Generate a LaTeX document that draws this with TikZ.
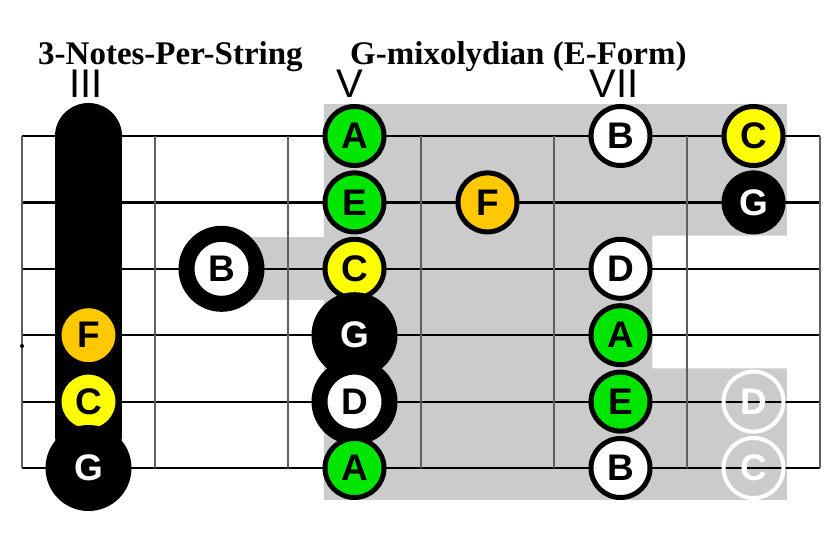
\documentclass[tikz,border=0pt]{standalone}
\usepackage{fontspec}
\setmainfont{Liberation Serif}
\setsansfont{Liberation Sans}

\definecolor{notegreen}{RGB}{0,230,0}
\definecolor{noteyellow}{RGB}{255,255,0}
\definecolor{noteorange}{RGB}{255,200,0}
\definecolor{boxgray}{RGB}{203,203,203}
\definecolor{fretgray}{RGB}{95,95,95}

\begin{document}
\begin{tikzpicture}[x=133pt,y=-66.4pt,
    note/.style={circle,draw=black,line width=5pt,minimum size=59pt,inner sep=0pt,
      font=\sffamily\bfseries\fontsize{37}{37}\selectfont},
    ringnote/.style={circle,draw=black,line width=16pt,minimum size=70pt,inner sep=0pt,fill=white,
      font=\sffamily\bfseries\fontsize{37}{37}\selectfont},
    rootnote/.style={circle,fill=black,text=white,minimum size=86pt,inner sep=0pt,
      font=\sffamily\bfseries\fontsize{37}{37}\selectfont},
    ghostnote/.style={circle,draw=white,line width=4pt,minimum size=60pt,inner sep=0pt,text=white,
      font=\sffamily\bfseries\fontsize{37}{37}\selectfont},
    fretnum/.style={anchor=base,inner sep=0pt,font=\sffamily\fontsize{40}{40}\selectfont},
    title/.style={anchor=base west,inner sep=0pt,font=\bfseries\fontsize{33}{33}\selectfont}]
    \useasboundingbox (-0.16541,-2.04819) rectangle (6.15038,6.02410);

    % shaded box
    \fill[boxgray] (2.27,-0.48) -- (5.75,-0.48) -- (5.75,1.5) -- (4.74,1.5) -- (4.74,3.5)
      -- (5.75,3.5) -- (5.75,5.48) -- (2.27,5.48) -- cycle;
    \fill[boxgray] (1.5,1.52) rectangle (2.27,2.47);

    % strings and frets
    \foreach \s in {0,...,5}
    \draw[line width=2.2pt] (0,\s) -- (6,\s);
    \foreach \f in {0,...,6}
    \draw[fretgray,line width=2pt] (\f,0) -- (\f,5);
    \fill (0,3.163) circle (2pt);

    % titles
    \node[title] (title1) at (0.1203,-1.084) {3-Notes-Per-String};
    \node[title] (title2) at (2.466,-1.084) {G-mixolydian (E-Form)};

    % fret numbers
    \node[fretnum] (fret3) at (0.481,-0.587) {III};
    \node[fretnum] (fret5) at (2.466,-0.587) {V};
    \node[fretnum] (fret7) at (4.451,-0.587) {VII};

    % barre
    \draw[line width=66pt,line cap=round] (0.5,0) -- (0.5,4.5);

    % fret III
    \node[note,fill=noteorange] (n43) at (0.5,3) {F};
    \node[note,fill=noteyellow] (n53) at (0.5,4) {C};
    \node[rootnote] (n63) at (0.5,5) {G};

    % fret IV
    \node[ringnote] (n34) at (1.5,2) {B};

    % fret V
    \node[note,fill=notegreen] (n15) at (2.5,0) {A};
    \node[note,fill=notegreen] (n25) at (2.5,1) {E};
    \node[note,fill=noteyellow] (n35) at (2.5,2) {C};
    \node[rootnote] (n45) at (2.5,3) {G};
    \node[ringnote] (n55) at (2.5,4) {D};
    \node[note,fill=notegreen] (n65) at (2.5,5) {A};

    % fret VI
    \node[note,fill=noteorange] (n26) at (3.5,1) {F};

    % fret VII
    \node[note,fill=white] (n17) at (4.5,0) {B};
    \node[note,fill=white] (n37) at (4.5,2) {D};
    \node[note,fill=notegreen] (n47) at (4.5,3) {A};
    \node[note,fill=notegreen] (n57) at (4.5,4) {E};
    \node[note,fill=white] (n67) at (4.5,5) {B};

    % fret VIII
    \node[note,fill=noteyellow] (n18) at (5.5,0) {C};
    \node[note,fill=black,text=white] (n28) at (5.5,1) {G};
    \node[ghostnote] (n58) at (5.5,4) {D};
    \node[ghostnote] (n68) at (5.5,5) {C};
\end{tikzpicture}
\end{document}
